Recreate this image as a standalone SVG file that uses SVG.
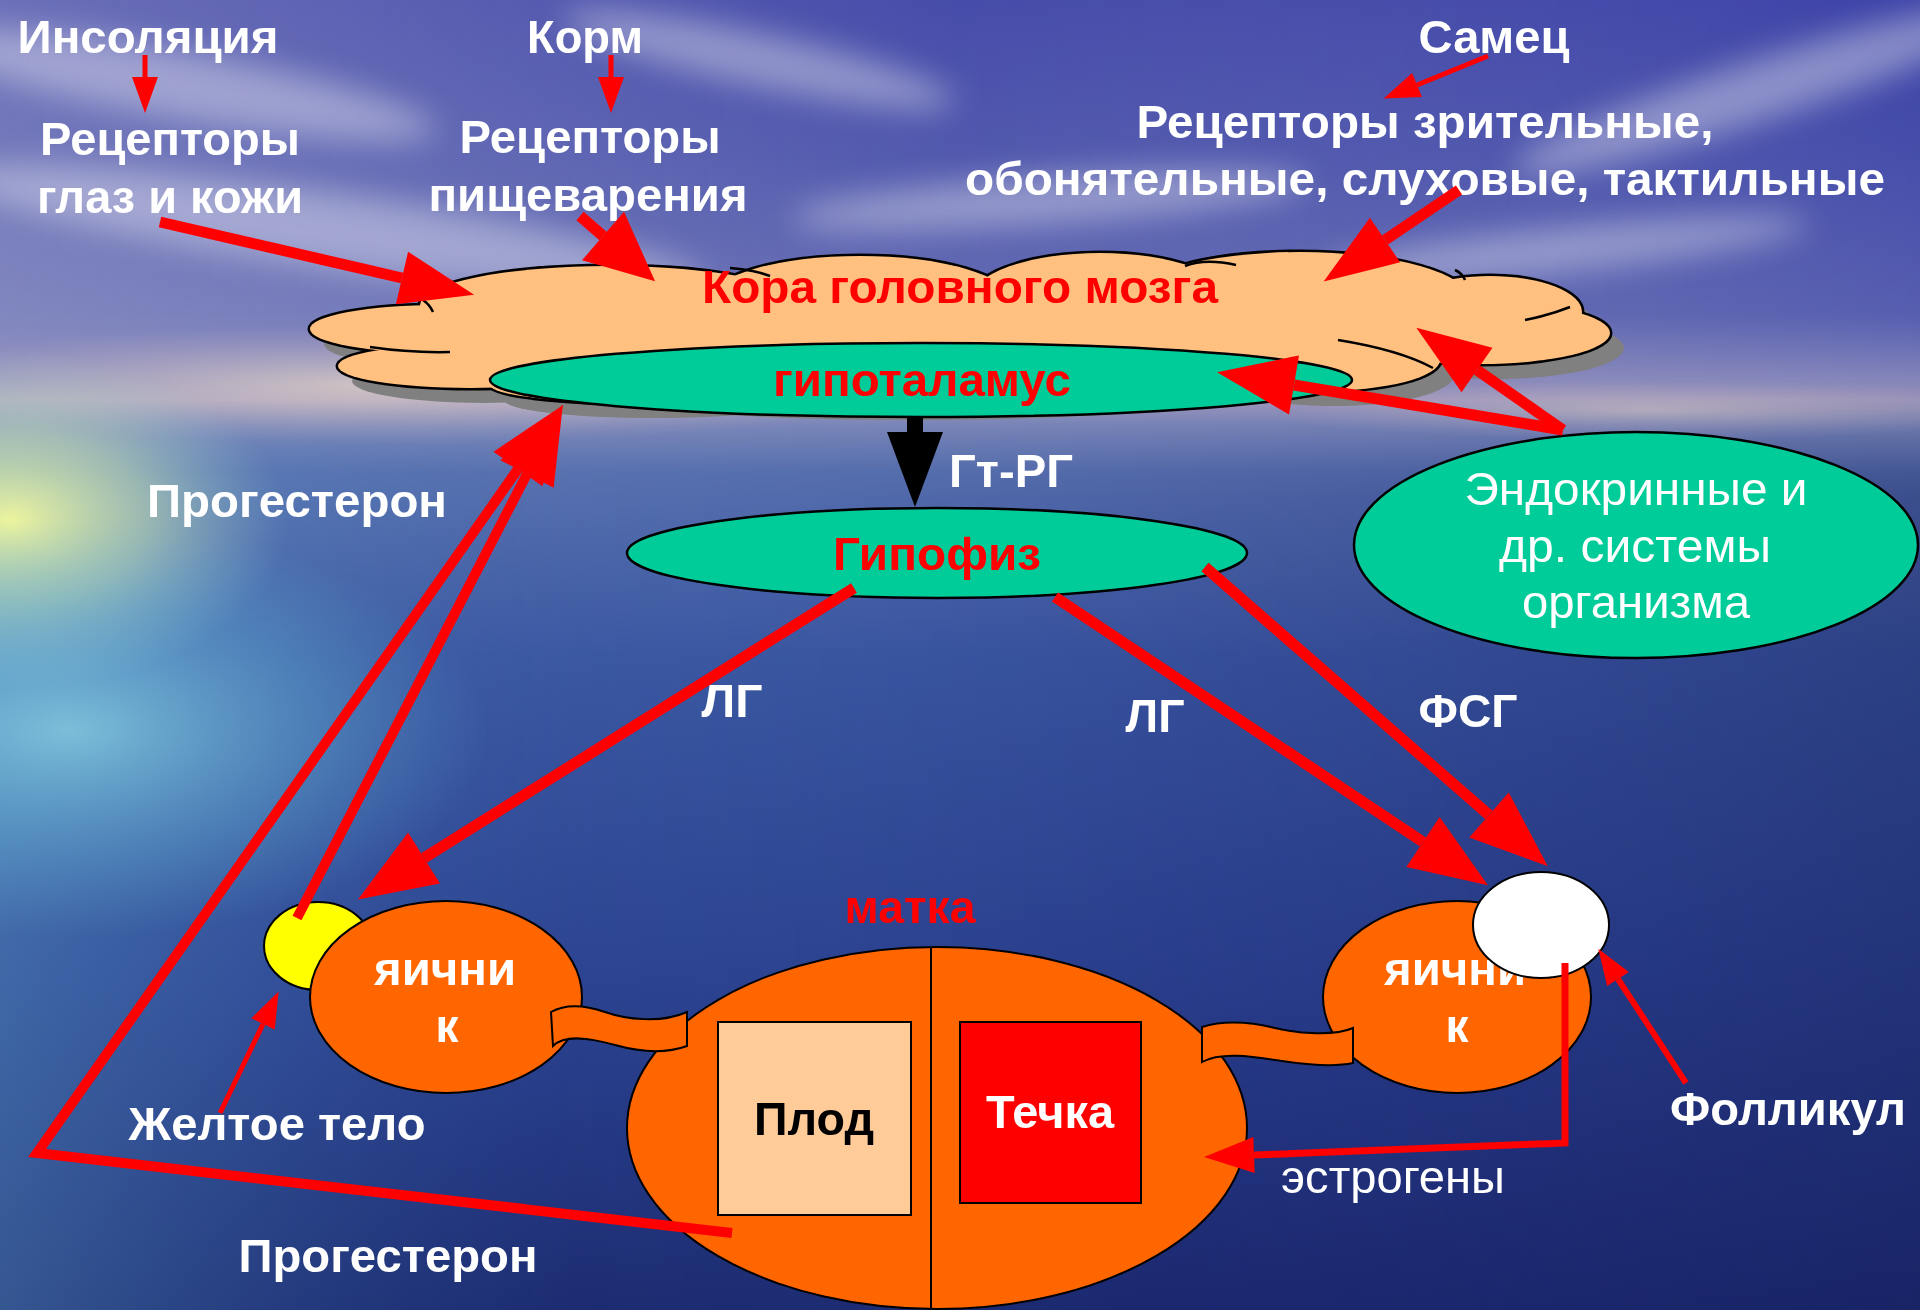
<svg xmlns="http://www.w3.org/2000/svg" width="1920" height="1310" viewBox="0 0 1920 1310">
<defs>
<style>
.wb{font-family:"Liberation Sans",Arial,sans-serif;font-weight:bold;font-size:46px;fill:#fff;text-anchor:middle}
.wr{font-family:"Liberation Sans",Arial,sans-serif;font-weight:normal;font-size:47px;fill:#fff;text-anchor:middle}
.rb{font-family:"Liberation Sans",Arial,sans-serif;font-weight:bold;font-size:46px;fill:#f00;text-anchor:middle}
.kb{font-family:"Liberation Sans",Arial,sans-serif;font-weight:bold;font-size:46px;fill:#000;text-anchor:middle}
.ol{stroke:#000;stroke-width:2.5}
.arr{fill:none;stroke:#f00;stroke-linejoin:miter}
.thick{stroke-width:11}
.prog{stroke-width:10}
.thin{stroke-width:5}
.inner{fill:none;stroke:#000;stroke-width:2.5}
</style>
<linearGradient id="bg" x1="0" y1="0" x2="0" y2="1310" gradientUnits="userSpaceOnUse">
<stop offset="0" stop-color="#4046a8"/>
<stop offset="0.12" stop-color="#4c54ac"/>
<stop offset="0.24" stop-color="#6068b2"/>
<stop offset="0.29" stop-color="#8c8cbc"/>
<stop offset="0.305" stop-color="#a49cc0"/>
<stop offset="0.325" stop-color="#7c88ba"/>
<stop offset="0.36" stop-color="#5a72b0"/>
<stop offset="0.5" stop-color="#3c58a2"/>
<stop offset="0.75" stop-color="#2c4290"/>
<stop offset="1" stop-color="#1c2a70"/>
</linearGradient>
<linearGradient id="seaH" x1="0" y1="0" x2="1" y2="0">
<stop offset="0" stop-color="#70c0e0" stop-opacity="0.3"/>
<stop offset="0.3" stop-color="#3060a8" stop-opacity="0.05"/>
<stop offset="0.6" stop-color="#182070" stop-opacity="0.15"/>
<stop offset="1" stop-color="#141c58" stop-opacity="0.4"/>
</linearGradient>
<linearGradient id="skyH" x1="0" y1="0" x2="1" y2="0">
<stop offset="0" stop-color="#d0d0e0" stop-opacity="0.3"/>
<stop offset="0.5" stop-color="#c8c8d8" stop-opacity="0.05"/>
<stop offset="1" stop-color="#3038a8" stop-opacity="0.2"/>
</linearGradient>
<linearGradient id="fadeSky" x1="0" y1="0" x2="0" y2="1310" gradientUnits="userSpaceOnUse">
<stop offset="0" stop-color="#fff"/>
<stop offset="0.24" stop-color="#fff"/>
<stop offset="0.32" stop-color="#000"/>
<stop offset="1" stop-color="#000"/>
</linearGradient>
<linearGradient id="fadeSea" x1="0" y1="0" x2="0" y2="1310" gradientUnits="userSpaceOnUse">
<stop offset="0" stop-color="#000"/>
<stop offset="0.29" stop-color="#000"/>
<stop offset="0.38" stop-color="#fff"/>
<stop offset="1" stop-color="#fff"/>
</linearGradient>
<mask id="mSky" maskUnits="userSpaceOnUse" x="0" y="0" width="1920" height="1310"><rect width="1920" height="1310" fill="url(#fadeSky)"/></mask>
<mask id="mSea" maskUnits="userSpaceOnUse" x="0" y="0" width="1920" height="1310"><rect width="1920" height="1310" fill="url(#fadeSea)"/></mask>
<radialGradient id="glow" cx="0.5" cy="0.5" r="0.5">
<stop offset="0" stop-color="#f4fa9c" stop-opacity="0.95"/>
<stop offset="0.5" stop-color="#d0e8b0" stop-opacity="0.55"/>
<stop offset="1" stop-color="#a0d0d0" stop-opacity="0"/>
</radialGradient>
<radialGradient id="cyan" cx="0.5" cy="0.5" r="0.5">
<stop offset="0" stop-color="#9aeaf0" stop-opacity="0.65"/>
<stop offset="0.6" stop-color="#70c8e0" stop-opacity="0.3"/>
<stop offset="1" stop-color="#70c0e0" stop-opacity="0"/>
</radialGradient>
<radialGradient id="haze" cx="0.5" cy="0.5" r="0.5">
<stop offset="0" stop-color="#e4d4c4" stop-opacity="0.75"/>
<stop offset="1" stop-color="#c0b0c0" stop-opacity="0"/>
</radialGradient>
<filter id="blur" x="-20%" y="-60%" width="140%" height="220%"><feGaussianBlur stdDeviation="16"/></filter>
<g id="lobes">
<ellipse cx="440" cy="329" rx="130" ry="24"/>
<ellipse cx="470" cy="366" rx="132" ry="22"/>
<ellipse cx="610" cy="305" rx="190" ry="39"/>
<ellipse cx="860" cy="300" rx="150" ry="44"/>
<ellipse cx="1100" cy="300" rx="130" ry="47"/>
<ellipse cx="1300" cy="300" rx="170" ry="48"/>
<ellipse cx="1490" cy="312" rx="92" ry="36"/>
<ellipse cx="1480" cy="333" rx="130" ry="31"/>
<ellipse cx="1320" cy="360" rx="120" ry="31"/>
<ellipse cx="900" cy="350" rx="450" ry="55"/>
<ellipse cx="640" cy="385" rx="150" ry="18"/>
</g>
<marker id="hL" markerUnits="userSpaceOnUse" orient="auto" overflow="visible" markerWidth="1" markerHeight="1" refX="0" refY="0"><path d="M0,-30 L78,0 L0,30 Z" fill="#f00"/></marker>
<marker id="hM" markerUnits="userSpaceOnUse" orient="auto" overflow="visible" markerWidth="1" markerHeight="1" refX="0" refY="0"><path d="M0,-27 L74,0 L0,27 Z" fill="#f00"/></marker>
<marker id="hP" markerUnits="userSpaceOnUse" orient="auto" overflow="visible" markerWidth="1" markerHeight="1" refX="0" refY="0"><path d="M0,-32 L69,0 L0,32 Z" fill="#f00"/></marker>
<marker id="hS" markerUnits="userSpaceOnUse" orient="auto" overflow="visible" markerWidth="1" markerHeight="1" refX="0" refY="0"><path d="M0,-13 L36,0 L0,13 Z" fill="#f00"/></marker>
<marker id="hE" markerUnits="userSpaceOnUse" orient="auto" overflow="visible" markerWidth="1" markerHeight="1" refX="0" refY="0"><path d="M0,-18 L50,0 L0,18 Z" fill="#f00"/></marker>
</defs>

<g id="background">
<rect x="0" y="0" width="1920" height="1310" fill="url(#bg)"/>
<rect x="0" y="0" width="1920" height="1310" fill="url(#skyH)" mask="url(#mSky)"/>
<rect x="0" y="0" width="1920" height="1310" fill="url(#seaH)" mask="url(#mSea)"/>
<g filter="url(#blur)" fill="#e4e4f0" opacity="0.45">
<ellipse cx="180" cy="85" rx="260" ry="34" transform="rotate(10 180 85)"/>
<ellipse cx="330" cy="230" rx="380" ry="38" transform="rotate(8 330 230)"/>
<ellipse cx="760" cy="60" rx="200" ry="26" transform="rotate(12 760 60)"/>
<ellipse cx="1050" cy="200" rx="260" ry="24" transform="rotate(-4 1050 200)"/>
<ellipse cx="1760" cy="90" rx="260" ry="30" transform="rotate(-18 1760 90)"/>
<ellipse cx="1560" cy="250" rx="250" ry="22" transform="rotate(-6 1560 250)"/>
</g>
<ellipse cx="380" cy="385" rx="560" ry="60" fill="url(#haze)"/>
<ellipse cx="1650" cy="410" rx="400" ry="30" fill="url(#haze)" opacity="0.6"/>
<ellipse cx="10" cy="520" rx="280" ry="170" fill="url(#glow)"/>
<ellipse cx="70" cy="730" rx="420" ry="210" fill="url(#cyan)"/>
</g>

<g id="cortex">
<use href="#lobes" fill="#808080" transform="translate(14,15)"/>
<use href="#lobes" fill="none" stroke="#000" stroke-width="5"/>
<use href="#lobes" fill="#FFC080"/>
<path class="inner" d="M423,300 Q430,305 433,312"/>
<path class="inner" d="M370,347 Q410,353 450,352"/>
<path class="inner" d="M730,268 Q755,270 770,276"/>
<path class="inner" d="M1185,266 Q1205,258 1236,265"/>
<path class="inner" d="M1455,270 Q1462,273 1465,280"/>
<path class="inner" d="M1525,320 Q1550,315 1570,307"/>
<path class="inner" d="M1338,340 Q1400,350 1433,368"/>
<text class="rb" x="960" y="303" textLength="516" lengthAdjust="spacingAndGlyphs">Кора головного мозга</text>
</g>

<g id="hypothalamus">
<ellipse class="ol" cx="921" cy="380" rx="431" ry="37" fill="#00CC99"/>
<text class="rb" x="922" y="396" textLength="298" lengthAdjust="spacingAndGlyphs">гипоталамус</text>
</g>

<g id="hypophysis">
<ellipse class="ol" cx="937" cy="553" rx="310" ry="45" fill="#00CC99"/>
<text class="rb" x="937" y="570" textLength="208" lengthAdjust="spacingAndGlyphs">Гипофиз</text>
</g>

<g id="endocrine">
<ellipse class="ol" cx="1636" cy="545" rx="282" ry="113" fill="#00CC99"/>
<text class="wr" x="1636" y="505" textLength="343" lengthAdjust="spacingAndGlyphs">Эндокринные и</text>
<text class="wr" x="1635" y="562" textLength="272" lengthAdjust="spacingAndGlyphs">др. системы</text>
<text class="wr" x="1636" y="618" textLength="228" lengthAdjust="spacingAndGlyphs">организма</text>
</g>

<g id="labels-top">
<text class="wb" x="148" y="53" textLength="261" lengthAdjust="spacingAndGlyphs">Инсоляция</text>
<text class="wb" x="585" y="53" textLength="116" lengthAdjust="spacingAndGlyphs">Корм</text>
<text class="wb" x="1494" y="53" textLength="151" lengthAdjust="spacingAndGlyphs">Самец</text>
</g>

<g id="receptors-eye">
<text class="wb" x="170" y="155" textLength="260" lengthAdjust="spacingAndGlyphs">Рецепторы</text>
<text class="wb" x="170" y="213" textLength="266" lengthAdjust="spacingAndGlyphs">глаз и кожи</text>
</g>

<g id="receptors-digest">
<text class="wb" x="590" y="153" textLength="261" lengthAdjust="spacingAndGlyphs">Рецепторы</text>
<text class="wb" x="588" y="211" textLength="319" lengthAdjust="spacingAndGlyphs">пищеварения</text>
</g>

<g id="receptors-senses">
<text class="wb" x="1425" y="138" textLength="577" lengthAdjust="spacingAndGlyphs">Рецепторы зрительные,</text>
<text class="wb" x="1425" y="195" textLength="920" lengthAdjust="spacingAndGlyphs">обонятельные, слуховые, тактильные</text>
</g>

<g id="uterus">
<ellipse cx="937" cy="1128" rx="310" ry="181" fill="#FF6600" stroke="#000" stroke-width="2"/>
<line x1="931" y1="947" x2="931" y2="1310" stroke="#000" stroke-width="2"/>
<text class="rb" x="910" y="923" textLength="131" lengthAdjust="spacingAndGlyphs">матка</text>
</g>

<g id="fetus">
<rect x="718" y="1022" width="193" height="193" fill="#FFCC99" stroke="#000" stroke-width="2"/>
<text class="kb" x="814" y="1135" textLength="120" lengthAdjust="spacingAndGlyphs">Плод</text>
</g>

<g id="estrus">
<rect x="960" y="1022" width="181" height="181" fill="#FF0000" stroke="#000" stroke-width="2"/>
<text class="wb" x="1050" y="1128" textLength="128" lengthAdjust="spacingAndGlyphs">Течка</text>
</g>

<g id="corpus-luteum">
<ellipse cx="318" cy="946" rx="54" ry="44" fill="#FFFF00" stroke="#000" stroke-width="2"/>
</g>

<g id="ovary-left">
<ellipse cx="446" cy="997" rx="136" ry="96" fill="#FF6600" stroke="#000" stroke-width="2"/>
<text class="wb" x="445" y="985" textLength="142" lengthAdjust="spacingAndGlyphs">яични</text>
<text class="wb" x="447" y="1042">к</text>
</g>

<g id="tube-left">
<path d="M551,1012 C565,1004 585,1005 605,1012 S660,1024 687,1012 L687,1046 C665,1054 640,1052 615,1045 S565,1034 553,1046 Z" fill="#FF6600" stroke="#000" stroke-width="2"/>
</g>

<g id="ovary-right">
<ellipse cx="1457" cy="997" rx="134" ry="96" fill="#FF6600" stroke="#000" stroke-width="2"/>
<text class="wb" x="1455" y="985" textLength="142" lengthAdjust="spacingAndGlyphs">яични</text>
<text class="wb" x="1457" y="1042">к</text>
</g>

<g id="tube-right">
<path d="M1202,1027 C1225,1020 1250,1022 1275,1028 S1335,1036 1353,1028 L1353,1063 C1330,1068 1300,1064 1275,1060 S1220,1052 1202,1062 Z" fill="#FF6600" stroke="#000" stroke-width="2"/>
</g>

<g id="follicle">
<ellipse cx="1541" cy="925" rx="68" ry="53" fill="#FFFFFF" stroke="#000" stroke-width="2"/>
</g>

<g id="labels-bottom">
<text class="wb" x="1011" y="487" textLength="124" lengthAdjust="spacingAndGlyphs">Гт-РГ</text>
<text class="wb" x="297" y="517" textLength="300" lengthAdjust="spacingAndGlyphs">Прогестерон</text>
<text class="wb" x="732" y="717" textLength="61" lengthAdjust="spacingAndGlyphs">ЛГ</text>
<text class="wb" x="1155" y="732" textLength="59" lengthAdjust="spacingAndGlyphs">ЛГ</text>
<text class="wb" x="1468" y="727" textLength="99" lengthAdjust="spacingAndGlyphs">ФСГ</text>
<text class="wb" x="277" y="1140" textLength="297" lengthAdjust="spacingAndGlyphs">Желтое тело</text>
<text class="wb" x="388" y="1272" textLength="299" lengthAdjust="spacingAndGlyphs">Прогестерон</text>
<text class="wb" x="1788" y="1125" textLength="236" lengthAdjust="spacingAndGlyphs">Фолликул</text>
<text class="wr" x="1393" y="1193" textLength="224" lengthAdjust="spacingAndGlyphs">эстрогены</text>
</g>

<g id="connectors">
<line class="arr thin" x1="145" y1="55" x2="145" y2="77" marker-end="url(#hS)"/>
<line class="arr thin" x1="611" y1="55" x2="611" y2="77" marker-end="url(#hS)"/>
<line class="arr thin" x1="1488" y1="56" x2="1417" y2="85" marker-end="url(#hS)"/>
<line class="arr thick" x1="160" y1="222" x2="402" y2="278" marker-end="url(#hM)"/>
<line class="arr thick" x1="580" y1="216" x2="603" y2="236" marker-end="url(#hP)"/>
<line class="arr thick" x1="1459" y1="190" x2="1385" y2="240" marker-end="url(#hM)"/>
<line class="arr thick" x1="1563" y1="430" x2="1294" y2="385" marker-end="url(#hL)"/>
<line class="arr thick" x1="1563" y1="430" x2="1477" y2="370" marker-end="url(#hM)"/>
<rect x="907" y="416" width="16" height="18" fill="#000"/>
<polygon points="887,432 943,432 915,507" fill="#000"/>
<line class="arr thick" x1="854" y1="588" x2="424" y2="858" marker-end="url(#hL)"/>
<line class="arr thick" x1="1055" y1="597" x2="1423" y2="842" marker-end="url(#hL)"/>
<line class="arr thick" x1="1205" y1="567" x2="1489" y2="815" marker-end="url(#hL)"/>
<polyline class="arr prog" points="732,1233 37,1153 518,469" marker-end="url(#hL)"/>
<line class="arr prog" x1="297" y1="918" x2="527" y2="474" marker-end="url(#hL)"/>
<line class="arr thin" x1="220" y1="1113" x2="263" y2="1024" marker-end="url(#hS)"/>
<line class="arr" stroke-width="6" x1="1686" y1="1083" x2="1618" y2="979" marker-end="url(#hS)"/>
<polyline class="arr" stroke-width="7" points="1565,963 1565,1143 1254,1155" marker-end="url(#hE)"/>
</g>
</svg>
